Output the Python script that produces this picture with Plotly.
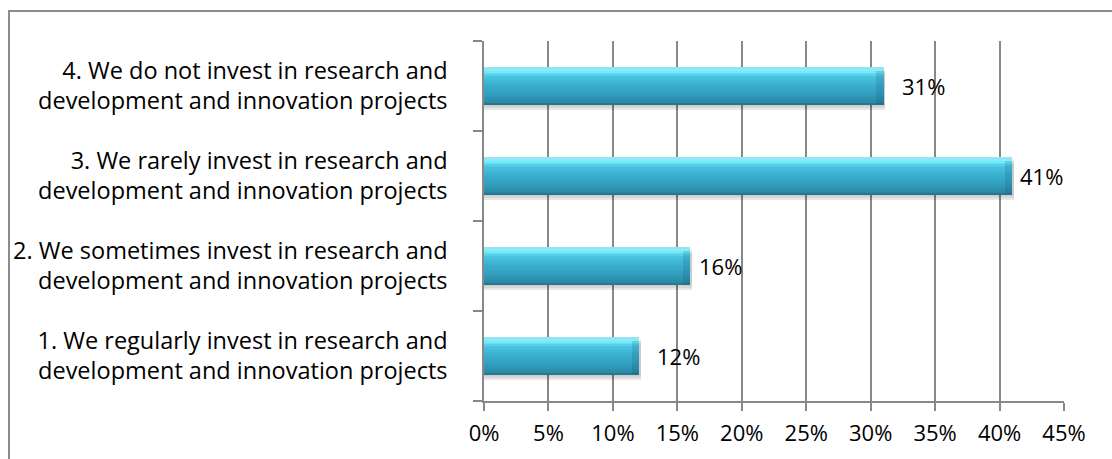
import plotly.graph_objects as go

# Survey answers (bottom to top) and their shares in percent
categories = [
    "1. We regularly invest in research and<br>development and innovation projects",
    "2. We sometimes invest in research and<br>development and innovation projects",
    "3. We rarely invest in research and<br>development and innovation projects",
    "4. We do not invest in research and<br>development and innovation projects",
]
shares = [12, 16, 41, 31]
label_texts = ["12%", "16%", "41%", "31%"]
label_gaps = [16, 7, 6, 16]  # pixel gap between bar end and its value label

x_ticks = [0, 5, 10, 15, 20, 25, 30, 35, 40, 45]
x_tick_text = [f"{t}%" for t in x_ticks]

FONT = "Open Sans"
CAT_SIZE = 23.5
NUM_SIZE = 22
GRID = "#888888"
BAR_W = 0.41

fig = go.Figure()

# soft drop shadow under each bar
for off, alpha in [(0.06, 0.09), (0.035, 0.07), (0.015, 0.05)]:
    fig.add_bar(
        y=categories, x=[s + 0.15 for s in shares], orientation="h",
        width=BAR_W, offset=-BAR_W / 2 - off,
        marker=dict(color=f"rgba(0,0,0,{alpha})", line_width=0),
        hoverinfo="skip", showlegend=False,
    )

# cylinder-like shading: stacked horizontal strips, light on top, dark at bottom
stops = [
    (0.00, (0x25, 0x6c, 0x82)),
    (0.05, (0x2b, 0x86, 0xa3)),
    (0.25, (0x30, 0x9b, 0xbb)),
    (0.55, (0x3b, 0xb0, 0xd0)),
    (0.78, (0x4c, 0xc6, 0xe2)),
    (0.88, (0x6e, 0xe6, 0xf8)),
    (0.95, (0x82, 0xf2, 0xff)),
    (1.00, (0xa0, 0xdc, 0xe8)),
]


def shade(t):
    for (t0, c0), (t1, c1) in zip(stops, stops[1:]):
        if t0 <= t <= t1:
            f = (t - t0) / (t1 - t0) if t1 > t0 else 0
            r, g, b = (round(a + (b_ - a) * f) for a, b_ in zip(c0, c1))
            return f"rgb({r},{g},{b})"
    return "rgb(60,178,210)"


N = 24
strip = BAR_W / N
for k in range(N):
    t = (k + 0.5) / N
    fig.add_bar(
        y=categories, x=shares, orientation="h",
        width=strip * 1.08, offset=-BAR_W / 2 + k * strip,
        marker=dict(color=shade(t), line_width=0),
        hoverinfo="skip", showlegend=False,
    )

# darker bevel at the right end of each bar
cap = 0.55
fig.add_bar(
    y=categories, x=[cap] * len(shares), base=[s - cap for s in shares],
    orientation="h", width=BAR_W * 0.9, offset=-BAR_W / 2 + BAR_W * 0.02,
    marker=dict(color="rgba(20,70,95,0.16)", line_width=0),
    hoverinfo="skip", showlegend=False,
)

# value labels
for cat, val, txt, gap in zip(categories, shares, label_texts, label_gaps):
    fig.add_annotation(
        x=val, y=cat, text=txt, showarrow=False,
        xanchor="left", yanchor="middle", xshift=gap,
        font=dict(family=FONT, size=NUM_SIZE, color="#000000"),
    )

# outer chart frame
fig.add_shape(
    type="rect", xref="paper", yref="paper",
    x0=(9 - 484) / 580, x1=1.2, y0=-0.3, y1=1 + 30 / 360,
    line=dict(color="#8c8c8c", width=2), fillcolor="rgba(0,0,0,0)", layer="below",
)

fig.update_layout(
    width=1112, height=459,
    margin=dict(l=484, r=48, t=41, b=58),
    paper_bgcolor="white", plot_bgcolor="white",
    barmode="overlay", bargap=0,
    font=dict(family=FONT, size=NUM_SIZE, color="#000000"),
    showlegend=False,
    xaxis=dict(
        range=[0, 45], tickvals=x_ticks, ticktext=x_tick_text,
        showgrid=True, gridcolor=GRID, gridwidth=1.5,
        zeroline=False, showline=True, linecolor=GRID, linewidth=1.5,
        ticks="outside", ticklen=8, tickcolor=GRID, tickwidth=1.5,
        ticklabelstandoff=4,
        tickfont=dict(family=FONT, size=NUM_SIZE, color="#000000"),
        fixedrange=True,
    ),
    yaxis=dict(
        categoryorder="array", categoryarray=categories,
        range=[-0.5, 3.5],
        showgrid=False, zeroline=False,
        showline=True, linecolor=GRID, linewidth=1.5,
        ticks="outside", ticklen=9, tickcolor=GRID, tickwidth=1.5,
        tickson="boundaries", ticklabelstandoff=30,
        tickfont=dict(family=FONT, size=CAT_SIZE, color="#000000"),
        fixedrange=True,
    ),
)

fig.write_html("out.html")
